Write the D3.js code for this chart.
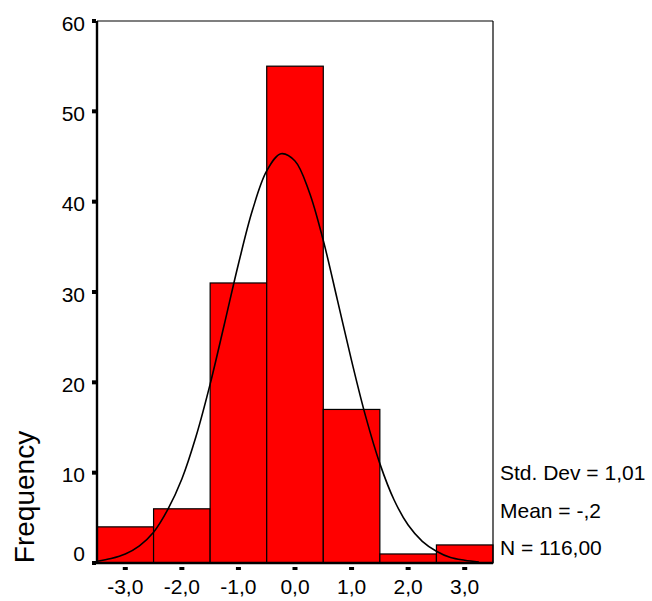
<!DOCTYPE html>
<html>
<head>
<meta charset="utf-8">
<script src="https://cdn.jsdelivr.net/npm/d3@7"></script>
<style>
  body { margin: 0; background: #fff; }
  text { font-family: "Liberation Sans", Arial, sans-serif; fill: #000; }
</style>
</head>
<body>
<div id="chart"></div>
<script>
// histogram bins (centres) and counts
var binCenters = [-3, -2, -1, 0, 1, 2, 3];
var counts = [4, 6, 31, 55, 17, 1, 2];
var yTicks = [0, 10, 20, 30, 40, 50, 60];
var xTicks = [-3, -2, -1, 0, 1, 2, 3];
// normal curve
var curveX = [-3.5, -3.25, -3, -2.75, -2.5, -2.25, -2, -1.75, -1.5, -1.25, -1, -0.75, -0.5, -0.25,
              0, 0.25, 0.5, 0.75, 1, 1.25, 1.5, 1.75, 2, 2.25, 2.5, 2.75, 3, 3.25];
var curveY = [0.2, 0.5, 1.0, 1.9, 3.4, 5.9, 9.3, 14.0, 19.8, 26.4, 33.1, 39.1, 43.4, 45.3,
              44.5, 41.1, 35.7, 29.1, 22.4, 16.2, 11.0, 7.0, 4.2, 2.4, 1.3, 0.6, 0.3, 0.1];
var stats = ["Std. Dev = 1,01", "Mean = -,2", "N = 116,00"];

var width = 652, height = 601;
var plotLeft = 97, plotRight = 493, plotTop = 21, plotBottom = 563;

var svg = d3.select("#chart").append("svg")
  .attr("width", width)
  .attr("height", height);

var x = d3.scaleLinear().domain([-3.5, 3.5]).range([plotLeft, plotRight]);
var y = d3.scaleLinear().domain([0, 60]).range([plotBottom, plotTop]);
var fmt = function(d) { return d3.format(".1f")(d).replace(".", ",").replace("−", "-"); };

// bars
svg.selectAll("rect.bar")
  .data(binCenters)
  .enter().append("rect")
  .attr("class", "bar")
  .attr("x", d => x(d - 0.5))
  .attr("width", d => x(d + 0.5) - x(d - 0.5))
  .attr("y", (d, i) => y(counts[i]))
  .attr("height", (d, i) => y(0) - y(counts[i]))
  .attr("fill", "#ff0000")
  .attr("stroke", "#000")
  .attr("stroke-width", 1.2);

// frame top & right
svg.append("line").attr("x1", plotLeft).attr("x2", plotRight).attr("y1", plotTop).attr("y2", plotTop)
  .attr("stroke", "#000").attr("stroke-width", 1.2);
svg.append("line").attr("x1", plotRight).attr("x2", plotRight).attr("y1", plotTop).attr("y2", plotBottom)
  .attr("stroke", "#000").attr("stroke-width", 1.2);

// normal curve
var line = d3.line()
  .x((d, i) => x(curveX[i]))
  .y(d => y(d))
  .curve(d3.curveCatmullRom);
svg.append("path")
  .datum(curveY)
  .attr("d", line)
  .attr("fill", "none")
  .attr("stroke", "#000")
  .attr("stroke-width", 1.6);

// axes
svg.append("line").attr("x1", plotLeft).attr("x2", plotLeft).attr("y1", plotTop).attr("y2", plotBottom + 1)
  .attr("stroke", "#000").attr("stroke-width", 2.4);
svg.append("line").attr("x1", plotLeft - 1).attr("x2", plotRight).attr("y1", plotBottom).attr("y2", plotBottom)
  .attr("stroke", "#000").attr("stroke-width", 2.4);

// y ticks (little squares) and labels
svg.selectAll("rect.ytick")
  .data(yTicks)
  .enter().append("rect")
  .attr("class", "ytick")
  .attr("x", plotLeft - 5).attr("width", 4)
  .attr("y", d => y(d) - 2).attr("height", 4)
  .attr("fill", "#000");
svg.selectAll("text.ylab")
  .data(yTicks)
  .enter().append("text")
  .attr("class", "ylab")
  .attr("x", 85)
  .attr("y", d => d === 0 ? y(d) - 10 : y(d) + 2)
  .attr("dy", "0.36em")
  .attr("text-anchor", "end")
  .style("font-size", "21px")
  .text(d => d);

// x ticks and labels
svg.selectAll("rect.xtick")
  .data(xTicks)
  .enter().append("rect")
  .attr("class", "xtick")
  .attr("x", d => x(d) - 2.5).attr("width", 5)
  .attr("y", plotBottom + 4).attr("height", 3)
  .attr("fill", "#000");
svg.selectAll("text.xlab")
  .data(xTicks)
  .enter().append("text")
  .attr("class", "xlab")
  .attr("x", d => x(d))
  .attr("y", 594)
  .attr("text-anchor", "middle")
  .style("font-size", "21px")
  .text(d => fmt(d));

// y title
svg.append("text")
  .attr("transform", "translate(34,497) rotate(-90)")
  .attr("text-anchor", "middle")
  .style("font-size", "28px")
  .text("Frequency");

// stats
svg.selectAll("text.stat")
  .data(stats)
  .enter().append("text")
  .attr("class", "stat")
  .attr("x", 500)
  .attr("y", (d, i) => 480 + i * 37.5)
  .style("font-size", "21px")
  .text(d => d);
</script>
</body>
</html>
